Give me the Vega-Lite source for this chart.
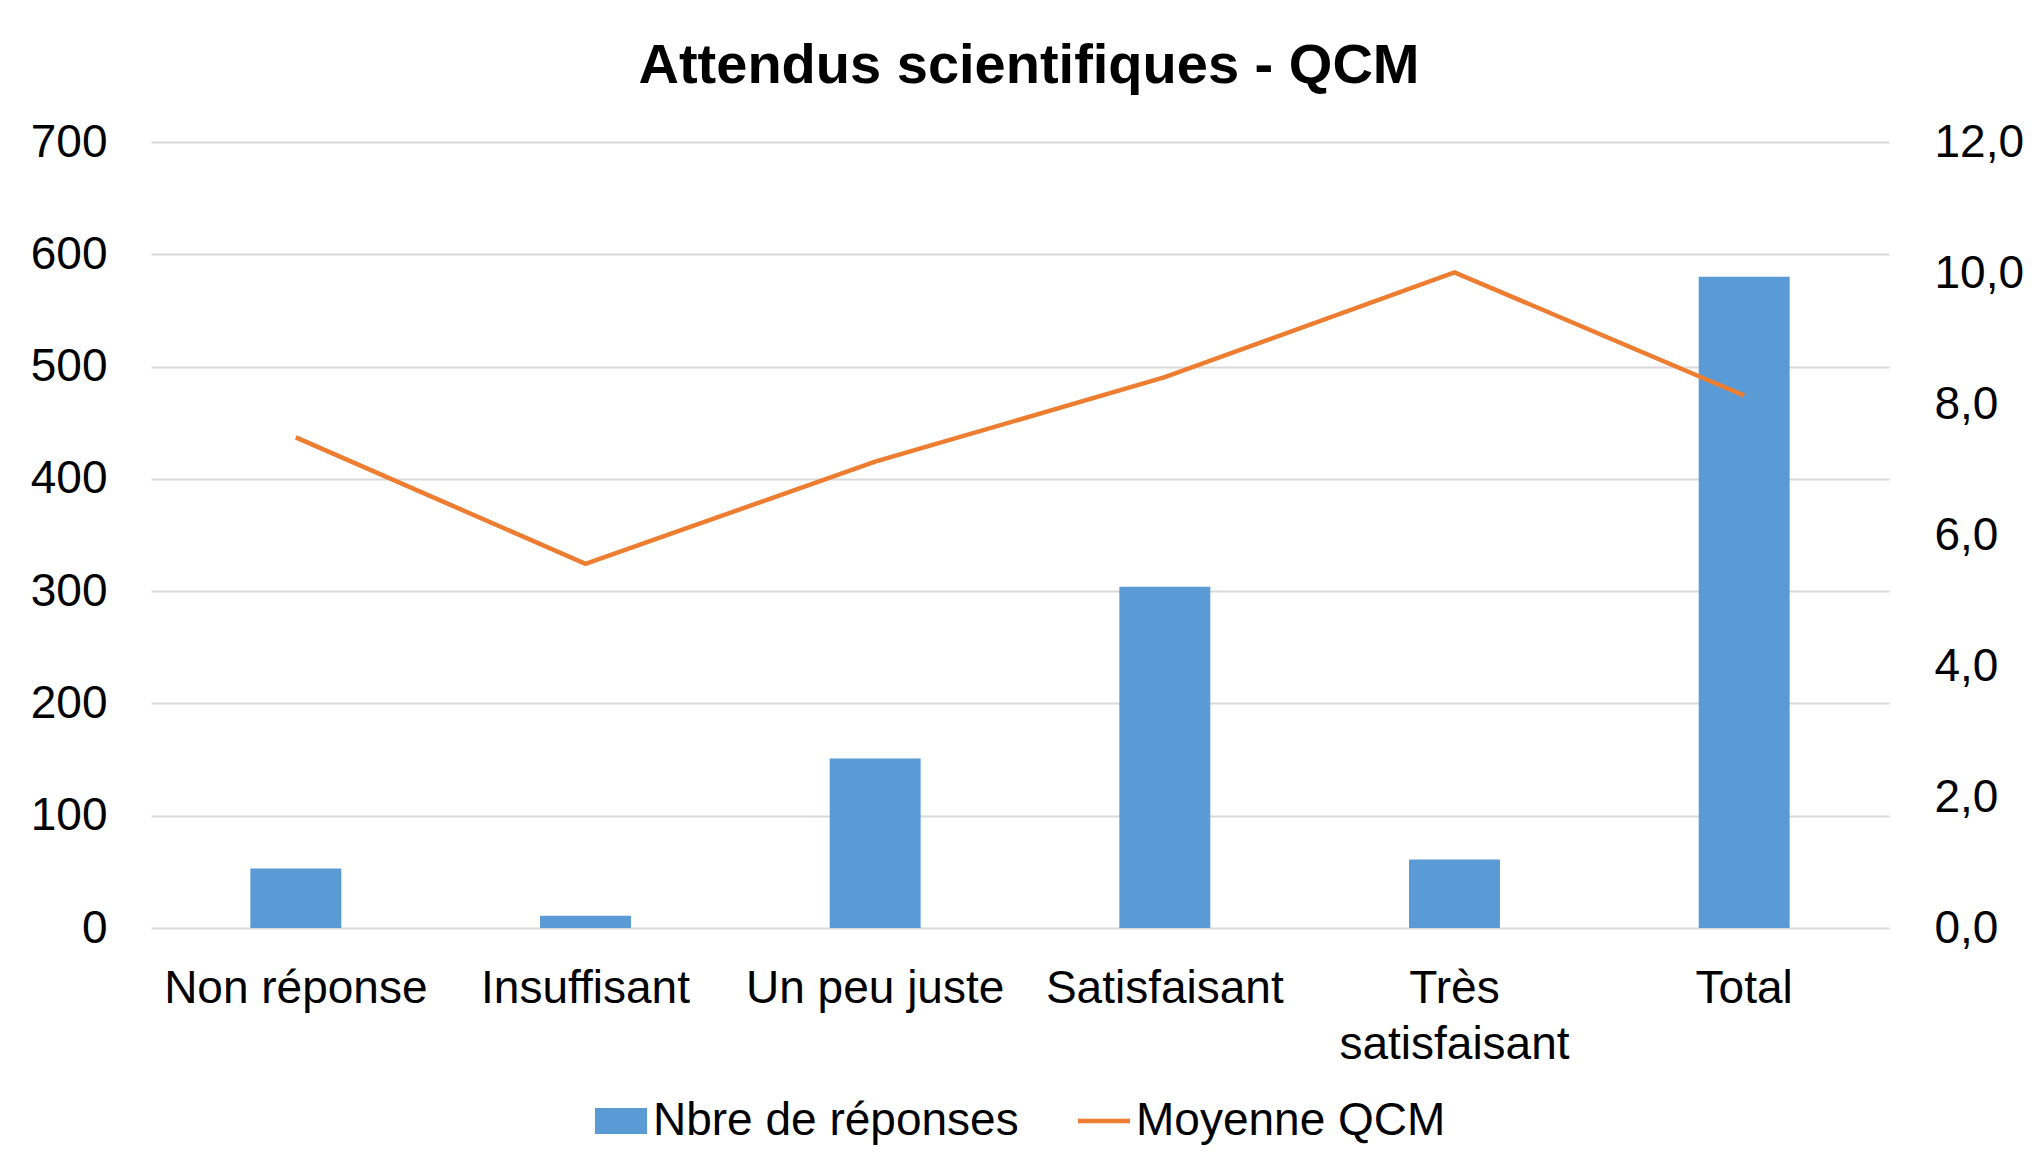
{
  "$schema": "https://vega.github.io/schema/vega-lite/v6.json",
  "width": 1738,
  "height": 786,
  "autosize": {"type": "none"},
  "padding": {"left": 151, "top": 142, "right": 147, "bottom": 241},
  "background": "white",
  "title": {
    "text": "Attendus scientifiques - QCM",
    "font": "Liberation Sans",
    "fontSize": 56,
    "fontWeight": "bold",
    "color": "black",
    "anchor": "middle",
    "dx": 9,
    "offset": 24
  },
  "data": {
    "values": [
      {"cat": "Non réponse", "n": 53, "mean": 7.49},
      {"cat": "Insuffisant", "n": 11, "mean": 5.56},
      {"cat": "Un peu juste", "n": 151, "mean": 7.12},
      {"cat": "Satisfaisant", "n": 304, "mean": 8.41},
      {"cat": "Très satisfaisant", "n": 61, "mean": 10.01},
      {"cat": "Total", "n": 580, "mean": 8.13}
    ]
  },
  "encoding": {
    "x": {
      "field": "cat",
      "type": "nominal",
      "sort": null,
      "scale": {"paddingInner": 0.686, "paddingOuter": 0.343},
      "axis": {
        "title": null,
        "labelAngle": 0,
        "labelPadding": 38,
        "labelLineHeight": 56,
        "labelLimit": 500,
        "grid": false,
        "labelExpr": "datum.label == 'Très satisfaisant' ? ['Très', 'satisfaisant'] : datum.label"
      }
    }
  },
  "layer": [
    {
      "mark": {"type": "bar"},
      "encoding": {
        "y": {
          "field": "n",
          "type": "quantitative",
          "scale": {"domain": [0, 700], "nice": false},
          "axis": {
            "title": null,
            "orient": "left",
            "values": [0, 100, 200, 300, 400, 500, 600, 700],
            "grid": true,
            "gridColor": "#D9D9D9",
            "gridWidth": 2,
            "labelPadding": 44,
            "labelLimit": 300
          }
        },
        "color": {
          "datum": "Nbre de réponses",
          "type": "nominal",
          "scale": {
            "domain": ["Nbre de réponses", "Moyenne QCM"],
            "range": ["#5B9BD5", "#ED7D31"]
          },
          "legend": {
            "title": null,
            "orient": "bottom",
            "direction": "horizontal",
            "offset": 28,
            "labelFont": "Liberation Sans",
            "labelFontSize": 46,
            "labelColor": "black",
            "labelOffset": 6,
            "labelLimit": 600,
            "columnPadding": 59,
            "symbolSize": 2704,
            "symbolStrokeWidth": 0,
            "encode": {
              "symbols": {
                "update": {
                  "shape": {"signal": "datum.value == 'Moyenne QCM' ? 'M-1,-0.085H1V0.085H-1Z' : 'M-1,-0.5H1V0.5H-1Z'"},
                  "fill": {"scale": "color", "field": "value"},
                  "stroke": {"value": "transparent"},
                  "strokeWidth": {"value": 0},
                  "opacity": {"value": 1}
                }
              }
            }
          }
        }
      }
    },
    {
      "mark": {"type": "line", "strokeWidth": 4.5},
      "encoding": {
        "y": {
          "field": "mean",
          "type": "quantitative",
          "scale": {"domain": [0, 12], "nice": false},
          "axis": {
            "title": null,
            "orient": "right",
            "values": [0, 2, 4, 6, 8, 10, 12],
            "grid": false,
            "labelPadding": 45,
            "labelLimit": 300,
            "labelExpr": "replace(format(datum.value, '.1f'), '.', ',')"
          }
        },
        "color": {"datum": "Moyenne QCM", "type": "nominal"}
      }
    }
  ],
  "resolve": {"scale": {"y": "independent"}},
  "config": {
    "view": {"stroke": null},
    "legend": {
      "layout": {"bottom": {"anchor": "middle"}}
    },
    "axis": {
      "labelFont": "Liberation Sans",
      "labelFontSize": 46,
      "labelColor": "black",
      "domain": false,
      "ticks": false,
      "tickSize": 0
    }
  }
}
